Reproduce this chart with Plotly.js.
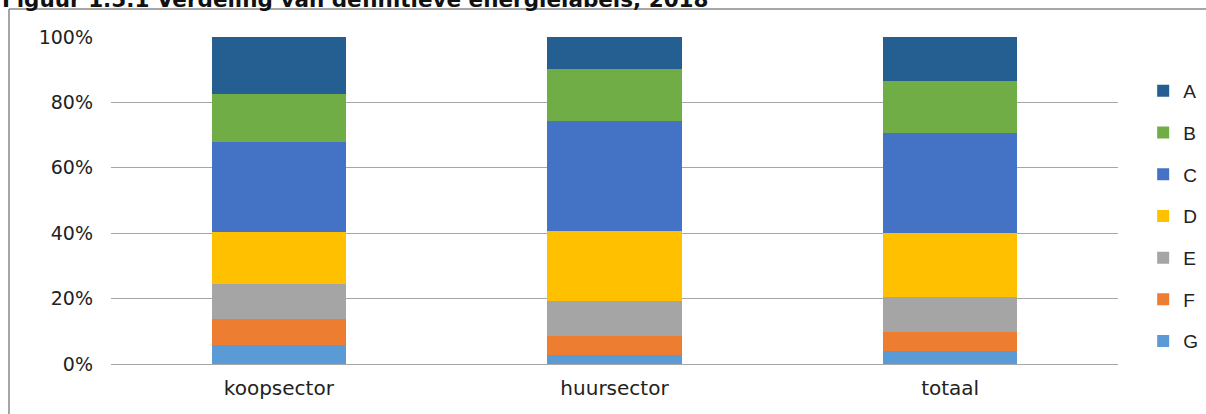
<!DOCTYPE html>
<html>
<head>
<meta charset="utf-8">
<script src="https://cdn.plot.ly/plotly-3.0.1.min.js"></script>
<style>html,body{margin:0;padding:0;background:#fff;}#chart{width:1206px;height:414px;}</style>
</head>
<body>
<div id="chart"></div>
<script>
var categories = ["koopsector", "huursector", "totaal"];
var labels = ["G", "F", "E", "D", "C", "B", "A"];
var valuesG = [5.9, 2.7, 4.0];
var valuesF = [7.8, 6.0, 5.9];
var valuesE = [10.7, 10.5, 10.6];
var valuesD = [16.1, 21.6, 19.7];
var valuesC = [27.4, 33.4, 30.5];
var valuesB = [14.6, 16.1, 15.7];
var valuesA = [17.5, 9.7, 13.6];
var yTickVals = [0, 20, 40, 60, 80, 100];
var yTickText = ["0%", "20%", "40%", "60%", "80%", "100%"];
var titleText = "Figuur 1.5.1 Verdeling van definitieve energielabels, 2018";

var seriesValues = [valuesG, valuesF, valuesE, valuesD, valuesC, valuesB, valuesA];
var colors = ["#5B9BD5", "#ED7D31", "#A5A5A5", "#FFC000", "#4472C4", "#70AD47", "#255E91"];

var traces = labels.map(function (lab, i) {
  return {
    type: "bar",
    name: lab,
    legendgroup: lab,
    legendrank: labels.length - i,
    x: categories,
    y: seriesValues[i],
    marker: { color: colors[i], line: { width: 0 } },
    hoverinfo: "skip"
  };
});

var layout = {
  width: 1206,
  height: 414,
  margin: { l: 111, r: 88, t: 37, b: 50, autoexpand: false },
  paper_bgcolor: "#ffffff",
  plot_bgcolor: "#ffffff",
  barmode: "stack",
  bargap: 0.6,
  showlegend: true,
  legend: {
    x: 1.025, xanchor: "left",
    y: 0.893, yanchor: "top",
    traceorder: "grouped",
    tracegroupgap: 14,
    itemwidth: 30,
    font: { family: "Arial, Liberation Sans, sans-serif", size: 19, color: "#222" },
    bgcolor: "rgba(0,0,0,0)"
  },
  xaxis: {
    type: "category",
    showgrid: false,
    zeroline: false,
    showline: false,
    ticks: "",
    tickfont: { family: "DejaVu Sans, Verdana, sans-serif", size: 20, color: "#222" },
    ticklabelstandoff: 10
  },
  yaxis: {
    range: [0, 100],
    tickvals: yTickVals,
    ticktext: yTickText,
    showgrid: true,
    gridcolor: "#a6a6a6",
    gridwidth: 1,
    zeroline: true,
    zerolinecolor: "#a6a6a6",
    zerolinewidth: 1,
    showline: false,
    ticks: "",
    tickfont: { family: "DejaVu Sans, Verdana, sans-serif", size: 19, color: "#222" },
    ticklabelstandoff: 17
  },
  shapes: [
    { type: "line", xref: "paper", yref: "paper", x0: -0.1013, x1: 1.0874, y0: 1.0856, y1: 1.0856,
      line: { color: "#888888", width: 1.5 } },
    { type: "line", xref: "paper", yref: "paper", x0: -0.1013, x1: -0.1013, y0: 1.0856, y1: -0.16,
      line: { color: "#888888", width: 1.5 } }
  ],
  annotations: [
    { text: "<b>" + titleText + "</b>", xref: "paper", yref: "paper",
      x: -0.1102, xanchor: "left", y: 1.116, yanchor: "middle", showarrow: false,
      font: { family: "DejaVu Sans, Verdana, sans-serif", size: 21.5, color: "#111" } }
  ]
};

Plotly.newPlot("chart", traces, layout, { displayModeBar: false, staticPlot: true });
</script>
</body>
</html>
